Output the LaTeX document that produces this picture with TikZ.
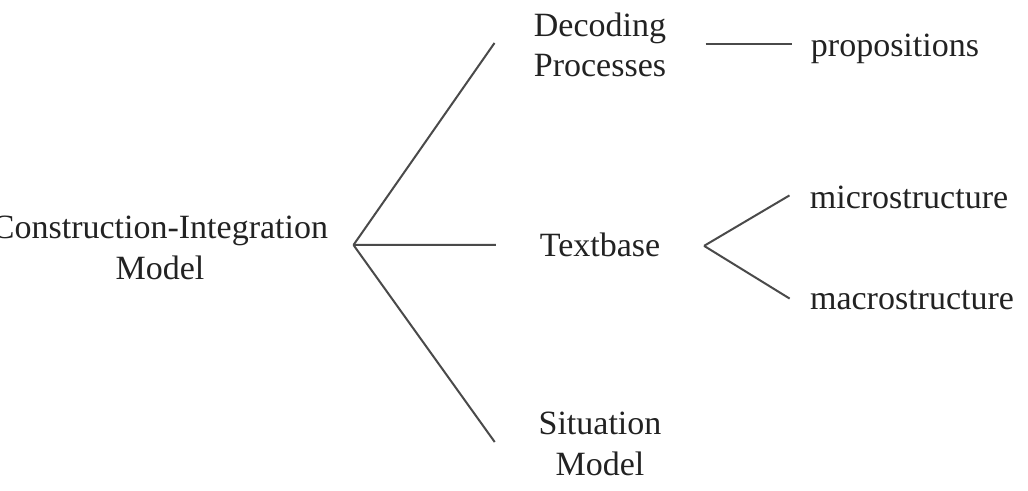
\documentclass[tikz,border=0pt]{standalone}
\usepackage{fontspec}
\setmainfont{Liberation Serif}
\usepackage{xcolor}
\usetikzlibrary{positioning}
\definecolor{inkdark}{HTML}{222222}
\definecolor{linegray}{HTML}{4A4A4A}
\tikzset{
  concept/.style={align=center, inner xsep=0pt, inner ysep=2pt, text=inkdark, font=\fontsize{17}{20.25}\selectfont},
  leaf/.style={concept, anchor=base},
  branch/.style={draw=linegray, line width=1pt},
}
\begin{document}
\begin{tikzpicture}[x=0.5pt, y=-0.5pt]
  \useasboundingbox (0,0) rectangle (1028,491);
  \node[concept] (root) at (160,248) {Construction-Integration\\Model};
  \node[concept] (decoding) at (600,45) {Decoding\\Processes};
  \node[leaf] (textbase) at (600,257) {Textbase};
  \node[concept] (situation) at (600,444) {Situation\\Model};
  \node[leaf] (propositions) at (895,57) {propositions};
  \node[leaf] (micro) at (909,209) {microstructure};
  \node[leaf] (macro) at (912,310) {macrostructure};

  % first level
  \coordinate (fork) at ([shift={(25,-3)}]root.east);
  \draw[branch] (fork) -- ([shift={(-39,-2)}]decoding.west);
  \draw[branch] (fork) -- ([shift={(-43.5,-0.5)}]textbase.west);
  \draw[branch] (fork) -- ([shift={(-43.5,-2)}]situation.west);

  % second level
  \coordinate (pstart) at ([shift={(39,-1)}]decoding.east);
  \coordinate (pend) at ([xshift=-9.5pt]propositions.west);
  \draw[branch] (pstart) -- (pstart -| pend);
  \coordinate (tbfork) at ([shift={(43.5,0.5)}]textbase.east);
  \draw[branch] (tbfork) -- ([shift={(-20,-2.5)}]micro.west);
  \draw[branch] (tbfork) -- ([shift={(-20,-2)}]macro.west);
\end{tikzpicture}
\end{document}
